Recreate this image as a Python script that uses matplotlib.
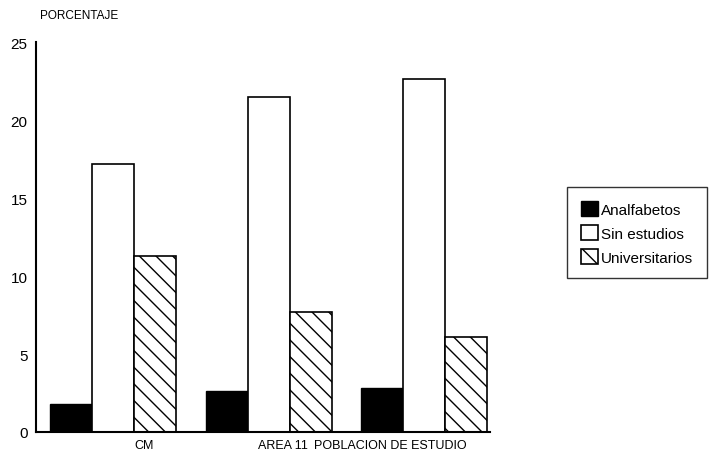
import numpy as np
import matplotlib.pyplot as plt

plt.rcParams['font.family'] = ['Liberation Sans', 'DejaVu Sans']
plt.rcParams['hatch.linewidth'] = 1.0

grupos = ["CM", "AREA 11", "POBLACION DE ESTUDIO"]
analfabetos = [1.8, 2.6, 2.8]
sin_estudios = [17.2, 21.5, 22.6]
universitarios = [11.3, 7.7, 6.1]
yticks = [0, 5, 10, 15, 20, 25]

x = np.arange(len(grupos))
w = 0.27

fig = plt.figure(figsize=(7.13, 4.6), dpi=100)
ax = fig.add_axes([0.0505, 0.0587, 0.6365, 0.8478])

ax.bar(x - w, analfabetos, w, color='black', edgecolor='black', label='Analfabetos')
ax.bar(x, sin_estudios, w, color='white', edgecolor='black', linewidth=1.2, label='Sin estudios')
ax.bar(x + w, universitarios, w, color='white', edgecolor='black', linewidth=1.2,
       hatch='\\\\', label='Universitarios')

ax.set_xlim(-0.495, 2.42)
ax.set_ylim(0, 25)
ax.set_yticks(yticks)
ax.tick_params(axis='y', length=0, labelsize=11, pad=6)
ax.tick_params(axis='x', length=0, labelsize=9, pad=5)
# las etiquetas del original no van centradas en cada grupo
ax.set_xticks(x + np.array([0.2, 0.09, -0.22]))
ax.set_xticklabels(grupos)
for s in ['top', 'right']:
    ax.spines[s].set_visible(False)
ax.spines['left'].set_linewidth(1.5)
ax.spines['bottom'].set_linewidth(1.5)

fig.text(0.056, 0.965, "PORCENTAJE", fontsize=8.5, va='center')

leg = fig.legend(loc='upper left', bbox_to_anchor=(0.785, 0.607), fontsize=11,
                 frameon=True, fancybox=False, edgecolor='black',
                 handlelength=1.1, handleheight=1.1, handletextpad=0.2,
                 labelspacing=0.55, borderpad=0.9)
leg.get_frame().set_linewidth(1.0)

fig.savefig('out.png', dpi=100)
